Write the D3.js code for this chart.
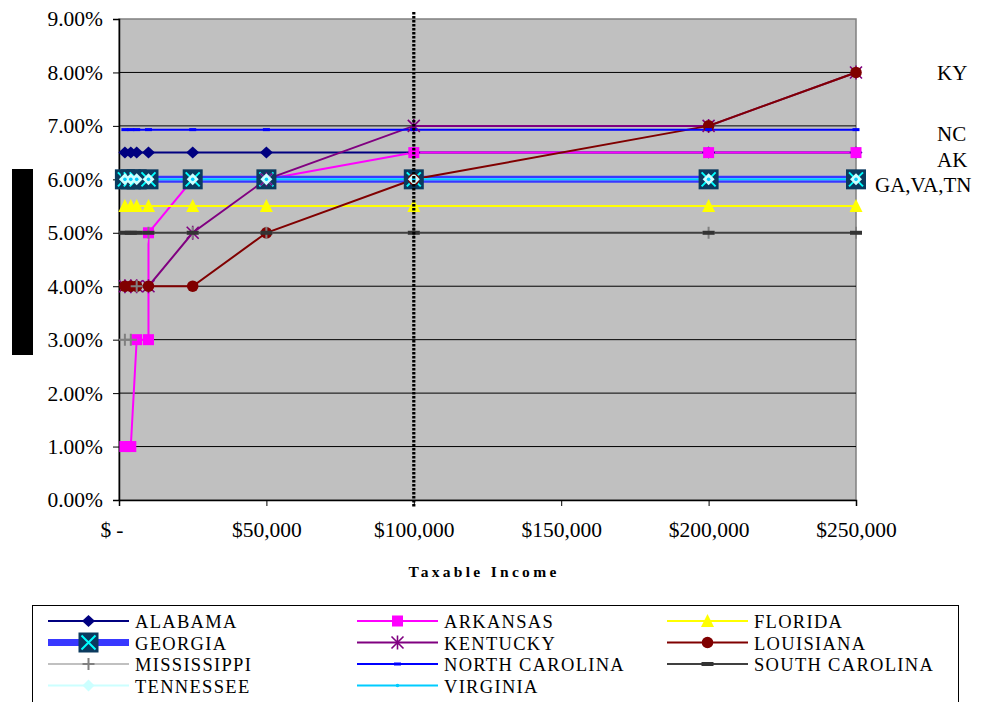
<!DOCTYPE html>
<html>
<head>
<meta charset="utf-8">
<script src="https://cdn.jsdelivr.net/npm/d3@7"></script>
<style>
  body { margin: 0; background: #fff; }
  svg text { font-family: "Liberation Serif", "Times New Roman", serif; fill: #000; }
</style>
</head>
<body>
<svg id="chart"></svg>
<script>
let width = 983;
let height = 702;
let serif = "Liberation Serif, Times New Roman, serif";

// income points (x) and rates in percent
let incomes = [2000, 4000, 6000, 10000, 25000, 50000, 100000, 200000, 250000];
let arkansasIncomes = [2000, 4000, 6000, 10000, 10000, 25000, 50000, 100000, 200000, 250000];

let alabama = [6.5, 6.5, 6.5, 6.5, 6.5, 6.5, 6.5, 6.5, 6.5];
let arkansas = [1, 1, 3, 3, 5, 6, 6, 6.5, 6.5, 6.5];
let florida = [5.5, 5.5, 5.5, 5.5, 5.5, 5.5, 5.5, 5.5, 5.5];
let georgia = [6, 6, 6, 6, 6, 6, 6, 6, 6];
let kentucky = [4, 4, 4, 4, 5, 6, 7, 7, 8];
let louisiana = [4, 4, 4, 4, 4, 5, 6, 7, 8];
let mississippi = [3, 3, 4, 5, 5, 5, 5, 5, 5];
let northCarolina = [6.93, 6.93, 6.93, 6.93, 6.93, 6.93, 6.93, 6.93, 6.93];
let southCarolina = [5, 5, 5, 5, 5, 5, 5, 5, 5];
let tennessee = [6, 6, 6, 6, 6, 6, 6, 6, 6];
let virginia = [6, 6, 6, 6, 6, 6, 6, 6, 6];

let yTicks = [0, 1, 2, 3, 4, 5, 6, 7, 8, 9];
let xTicks = [0, 50000, 100000, 150000, 200000, 250000];
let markerLine = 100000;

let sideLabels = ["KY", "NC", "AK", "GA,VA,TN"];

let series = [
    {name: "ALABAMA", xs: incomes, ys: alabama, color: "#000080", width: 2, marker: "diamond"},
    {name: "ARKANSAS", xs: arkansasIncomes, ys: arkansas, color: "#ff00ff", width: 2, marker: "square"},
    {name: "FLORIDA", xs: incomes, ys: florida, color: "#ffff00", width: 2, marker: "triangle"},
    {name: "GEORGIA", xs: incomes, ys: georgia, color: "#3838ff", width: 7, marker: "gaSquare"},
    {name: "KENTUCKY", xs: incomes, ys: kentucky, color: "#800080", width: 2, marker: "asterisk"},
    {name: "LOUISIANA", xs: incomes, ys: louisiana, color: "#800000", width: 2, marker: "circle"},
    {name: "MISSISSIPPI", xs: incomes, ys: mississippi, color: "#c0c0c0", width: 2, marker: "plus"},
    {name: "NORTH CAROLINA", xs: incomes, ys: northCarolina, color: "#0000ff", width: 2, marker: "ncDash"},
    {name: "SOUTH CAROLINA", xs: incomes, ys: southCarolina, color: "#404040", width: 2, marker: "scDash"},
    {name: "TENNESSEE", xs: incomes, ys: tennessee, color: "#ccffff", width: 2, marker: "tnDiamond"},
    {name: "VIRGINIA", xs: incomes, ys: virginia, color: "#00ccff", width: 2, marker: "vaDot"}
];

let plot = {left: 119, right: 856, top: 19, bottom: 500};

let svg = d3.select("#chart")
    .attr("width", width)
    .attr("height", height);

let x = d3.scaleLinear().domain([0, 250000]).range([plot.left, plot.right]);
let y = d3.scaleLinear().domain([0, 9]).range([plot.bottom, plot.top]);

function drawMarker(g, type) {
    if (type === "diamond") {
        g.append("path").attr("d", "M0,-6L6.5,0L0,6L-6.5,0Z").attr("fill", "#000080");
    } else if (type === "square") {
        g.append("rect").attr("x", -5.5).attr("y", -5.5).attr("width", 11).attr("height", 11).attr("fill", "#ff00ff");
    } else if (type === "triangle") {
        g.append("path").attr("d", "M0,-7L6.5,6L-6.5,6Z").attr("fill", "#ffff00");
    } else if (type === "gaSquare") {
        g.append("rect").attr("x", -10).attr("y", -10).attr("width", 20).attr("height", 20).attr("fill", "#0b3a5e");
        g.append("path").attr("d", "M-7,-7L7,7M7,-7L-7,7").attr("stroke", "#00ffff").attr("stroke-width", 2);
    } else if (type === "asterisk") {
        g.append("path").attr("d", "M-6,-6L6,6M6,-6L-6,6M0,-7L0,7")
            .attr("stroke", "#800080").attr("stroke-width", 1.6);
    } else if (type === "circle") {
        g.append("circle").attr("r", 5.8).attr("fill", "#800000");
    } else if (type === "plus") {
        g.append("path").attr("d", "M-6,0L6,0M0,-6L0,6").attr("stroke", "#808080").attr("stroke-width", 2);
    } else if (type === "ncDash") {
        g.append("rect").attr("x", -3.5).attr("y", -1.5).attr("width", 7).attr("height", 3).attr("fill", "#0000ff");
    } else if (type === "scDash") {
        g.append("rect").attr("x", -6).attr("y", -2).attr("width", 12).attr("height", 4).attr("fill", "#333333");
    } else if (type === "tnDiamond") {
        g.append("path").attr("d", "M0,-6L6,0L0,6L-6,0Z").attr("fill", "#ccffff");
    } else if (type === "vaDot") {
        g.append("circle").attr("r", 1.8).attr("fill", "#00ccff");
    }
}

// plot area
svg.append("rect")
    .attr("x", plot.left).attr("y", plot.top)
    .attr("width", plot.right - plot.left).attr("height", plot.bottom - plot.top)
    .attr("fill", "#c0c0c0")
    .attr("stroke", "#808080")
    .attr("stroke-width", 1.5);

// gridlines
svg.append("g")
    .selectAll("line")
    .data(yTicks.filter(d => d > 0 && d < 9))
    .enter().append("line")
    .attr("x1", plot.left).attr("x2", plot.right)
    .attr("y1", d => y(d)).attr("y2", d => y(d))
    .attr("stroke", "#000")
    .attr("stroke-width", 1);

// axes
let yAxis = d3.axisLeft(y)
    .tickValues(yTicks)
    .tickSize(6)
    .tickPadding(10)
    .tickFormat(d => d3.format(".2f")(d) + "%");

let yG = svg.append("g")
    .attr("transform", "translate(" + plot.left + ",0)")
    .call(yAxis);

let xAxis = d3.axisBottom(x)
    .tickValues(xTicks)
    .tickSize(6)
    .tickPadding(16)
    .tickFormat(d => d === 0 ? "$-" : "$" + d3.format(",")(d));

let xG = svg.append("g")
    .attr("transform", "translate(0," + plot.bottom + ")")
    .call(xAxis);

[yG, xG].forEach(function (g) {
    g.attr("font-family", serif);
    g.select(".domain").attr("stroke", "#000").attr("stroke-width", 1.5);
    g.selectAll(".tick line").attr("stroke", "#000");
    g.selectAll(".tick text")
        .attr("font-family", serif)
        .attr("font-size", 21.5)
        .attr("fill", "#000");
});
xG.selectAll(".tick text").filter(d => d === 0)
    .attr("text-anchor", "end")
    .attr("dx", 9)
    .attr("letter-spacing", 5);

// lines first, then markers (Excel order)
let line = d3.line().x(d => x(d[0])).y(d => y(d[1]));

let linesG = svg.append("g");
series.forEach(function (s) {
    linesG.append("path")
        .datum(d3.zip(s.xs, s.ys))
        .attr("d", line)
        .attr("fill", "none")
        .attr("stroke", s.color)
        .attr("stroke-width", s.width);
});

let markersG = svg.append("g");
series.forEach(function (s) {
    d3.zip(s.xs, s.ys).forEach(function (p) {
        let g = markersG.append("g")
            .attr("transform", "translate(" + x(p[0]) + "," + y(p[1]) + ")");
        drawMarker(g, s.marker);
    });
});

// dotted vertical line at $100,000
svg.append("line")
    .attr("x1", x(markerLine)).attr("x2", x(markerLine))
    .attr("y1", 12).attr("y2", 508)
    .attr("stroke", "#000")
    .attr("stroke-width", 3.2)
    .attr("stroke-dasharray", "2.5,1.5");

// hidden y axis title
svg.append("rect")
    .attr("x", 12).attr("y", 169)
    .attr("width", 21).attr("height", 186)
    .attr("fill", "#000");

// x axis title
svg.append("text")
    .attr("x", 484).attr("y", 577)
    .attr("text-anchor", "middle")
    .attr("font-family", serif)
    .attr("font-size", 15.5)
    .attr("font-weight", "bold")
    .attr("letter-spacing", 3.3)
    .text("Taxable Income");

// side labels (text boxes to the right of the plot)
let sideX = [937, 937, 937, 875];
let sideY = [80, 141, 167, 192];
svg.append("g")
    .selectAll("text")
    .data(sideLabels)
    .enter().append("text")
    .attr("x", (d, i) => sideX[i])
    .attr("y", (d, i) => sideY[i])
    .attr("font-family", serif)
    .attr("font-size", 21)
    .text(d => d);

// legend
svg.append("rect")
    .attr("x", 32.5).attr("y", 605.5)
    .attr("width", 926).attr("height", 110)
    .attr("fill", "#fff")
    .attr("stroke", "#000")
    .attr("stroke-width", 1);

let legendCols = [48, 357, 667];
let legendRows = [621, 642.5, 664, 685.5];

series.forEach(function (s, i) {
    let cx = legendCols[i % 3];
    let cy = legendRows[Math.floor(i / 3)];
    let g = svg.append("g");
    g.append("line")
        .attr("x1", cx).attr("x2", cx + 81)
        .attr("y1", cy).attr("y2", cy)
        .attr("stroke", s.color)
        .attr("stroke-width", s.width);
    let m = g.append("g").attr("transform", "translate(" + (cx + 40.5) + "," + cy + ")");
    drawMarker(m, s.marker);
    g.append("text")
        .attr("x", cx + 87)
        .attr("y", cy + 7)
        .attr("font-family", serif)
        .attr("font-size", 18.5)
        .attr("letter-spacing", 1.3)
        .text(s.name);
});
</script>
</body>
</html>
